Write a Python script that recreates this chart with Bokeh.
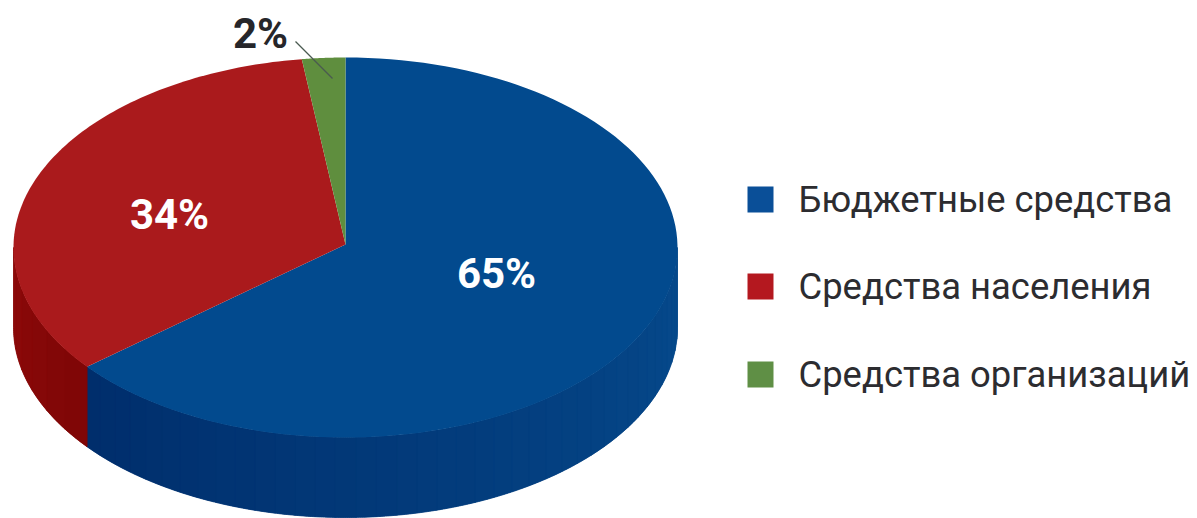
import numpy as np
from bokeh.plotting import figure
from bokeh.models import Range1d
from bokeh.core.properties import value
from bokeh.embed import file_html
from bokeh.resources import INLINE

categories = ["Бюджетные средства", "Средства населения", "Средства организаций"]
values = [64.2, 33.7, 2.1]
labels = ["65%", "34%", "2%"]

top_colors = ["#024a8e", "#aa1a1c", "#5f8e3e"]
key_colors = ["#0a4f98", "#b4181f", "#5f8f45"]
label_colors = ["#ffffff", "#ffffff", "#26262a"]
label_xy = [(496, 273), (169, 214), (260, 33)]
legend_y = [199, 286, 374]

CX, CY, RX, RY, DEPTH = 345, 247, 332, 190, 80
APEX_Y = 244
FONT = "Roboto"

W, H = 1197, 518
p = figure(width=W, height=H, output_backend="svg", toolbar_location=None,
           x_range=Range1d(0, W), y_range=Range1d(H, 0), min_border=0,
           x_axis_type=None, y_axis_type=None, outline_line_color=None,
           background_fill_color="#ffffff", border_fill_color="#ffffff")
p.grid.visible = False


def rim(a0, a1, n=120):
    t = np.radians(np.linspace(a0, a1, n))
    return CX + RX * np.sin(t), CY - RY * np.cos(t)


shares = np.array(values, dtype=float)
edges = np.concatenate([[0], np.cumsum(shares / shares.sum() * 360)])


def lerp(c0, c1, f):
    return "#%02x%02x%02x" % tuple(int(round(a + (b - a) * f)) for a, b in zip(c0, c1))


# side wall: only the front half (90..270 degrees) is visible
def wall(a0, a1, c0, c1, steps):
    bounds = np.linspace(a0, a1, steps + 1)
    x, y = rim(a0, a1)
    p.patch(np.r_[x, x[::-1]], np.r_[y, y[::-1] + DEPTH],
            fill_color=lerp(c0, c1, 0.5), line_color=None)
    for i in range(steps):
        x, y = rim(bounds[i], bounds[i + 1], 12)
        col = lerp(c0, c1, i / max(steps - 1, 1))
        p.patch(np.r_[x, x[::-1]], np.r_[y, y[::-1] + DEPTH],
                fill_color=col, line_color=col, line_width=0.8)


wall(90, edges[1], (6, 74, 140), (0, 46, 108), 40)
wall(edges[1], 270, (128, 6, 6), (140, 10, 10), 6)

# top faces
for i in range(len(values)):
    x, y = rim(edges[i], edges[i + 1])
    p.patch(np.r_[CX, x], np.r_[APEX_Y, y], fill_color=top_colors[i], line_color=None)

# leader of the smallest slice
p.line([295, 332], [41, 78], line_color="#4a5a50", line_width=1.2)

p.text([xy[0] for xy in label_xy], [xy[1] for xy in label_xy], text=labels,
       text_color=label_colors, text_font=value(FONT),
       text_font_style="bold", text_font_size="42px",
       text_align="center", text_baseline="middle")

# legend
p.rect([760] * 3, legend_y, width=26, height=26, fill_color=key_colors, line_color=None)
p.text([798] * 3, legend_y, text=categories, text_color="#2c2c30",
       text_font=value(FONT), text_font_size="36.4px",
       text_align="left", text_baseline="middle")

open("out.html", "w").write(file_html(p, INLINE))
